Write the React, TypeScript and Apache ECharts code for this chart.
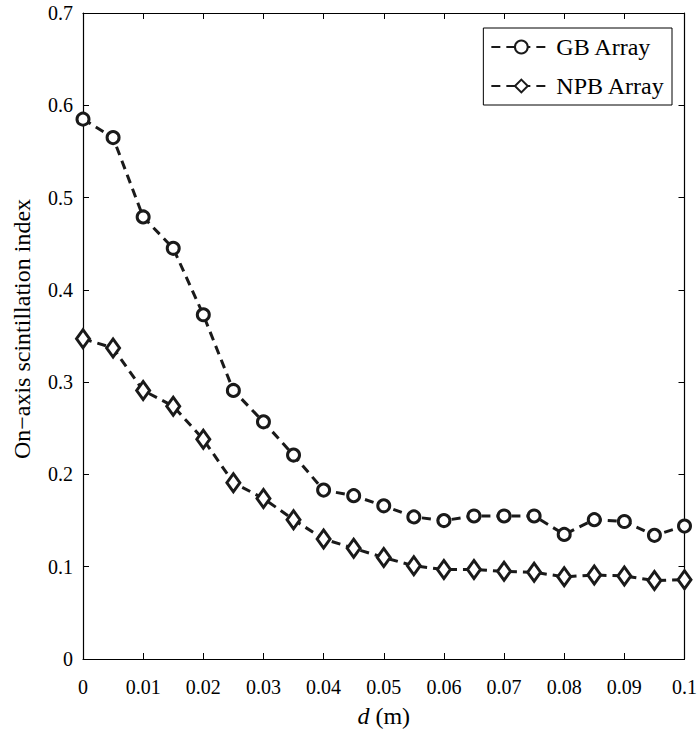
import React, { useEffect, useRef } from "react";
import * as echarts from "echarts";

const dValues = [0, 0.005, 0.01, 0.015, 0.02, 0.025, 0.03, 0.035, 0.04, 0.045, 0.05, 0.055, 0.06, 0.065, 0.07, 0.075, 0.08, 0.085, 0.09, 0.095, 0.1];
const gbArray = [0.585, 0.565, 0.479, 0.445, 0.373, 0.291, 0.257, 0.221, 0.183, 0.177, 0.166, 0.154, 0.150, 0.155, 0.155, 0.155, 0.135, 0.151, 0.149, 0.134, 0.144];
const npbArray = [0.347, 0.337, 0.291, 0.274, 0.238, 0.191, 0.174, 0.151, 0.130, 0.120, 0.110, 0.101, 0.097, 0.097, 0.095, 0.094, 0.089, 0.091, 0.090, 0.085, 0.086];
const seriesNames = ["GB Array", "NPB Array"];

const FONT = "Liberation Serif";

export default function App() {
  const ref = useRef<HTMLDivElement>(null);
  useEffect(() => {
    if (!ref.current) return;
    const chart = echarts.init(ref.current, null, { renderer: "svg" });
    const axisLine = { show: true, onZero: false, lineStyle: { color: "#000", width: 1.2 } };
    const tickStyle = { show: true, inside: true, length: 6, lineStyle: { color: "#000" } };
    const lbl = { fontFamily: FONT, fontSize: 20, color: "#000" };
    const mk = (vals: number[]) => dValues.map((d, i) => [d, vals[i]]);
    chart.setOption({
      animation: false,
      backgroundColor: "#fff",
      grid: { left: 83, right: 12, top: 13, bottom: 73 },
      legend: {
        orient: "vertical",
        right: 28,
        top: 28,
        padding: [7, 7, 7, 7],
        itemGap: 15,
        itemWidth: 60,
        itemHeight: 16,
        backgroundColor: "#fff",
        borderColor: "#000",
        borderWidth: 1,
        borderRadius: 0,
        textStyle: { fontFamily: FONT, fontSize: 24, color: "#000" },
        data: seriesNames,
      },
      xAxis: [
        {
          type: "value",
          min: 0,
          max: 0.1,
          interval: 0.01,
          axisLine,
          axisTick: tickStyle,
          splitLine: { show: false },
          axisLabel: { ...lbl, margin: 18, formatter: (v: number) => (v === 0 ? "0" : String(+v.toFixed(2))) },
          name: "{i|d} (m)",
          nameLocation: "middle",
          nameGap: 45,
          nameTextStyle: {
            fontFamily: FONT,
            fontSize: 24,
            color: "#000",
            rich: {
              i: { fontFamily: FONT, fontSize: 24, fontStyle: "italic", color: "#000" },
            },
          },
        },
        {
          type: "value",
          position: "top",
          min: 0,
          max: 0.1,
          interval: 0.01,
          axisLine,
          axisTick: tickStyle,
          axisLabel: { show: false },
          splitLine: { show: false },
        },
      ],
      yAxis: [
        {
          type: "value",
          min: 0,
          max: 0.7,
          interval: 0.1,
          axisLine,
          axisTick: tickStyle,
          splitLine: { show: false },
          axisLabel: { ...lbl, margin: 10, formatter: (v: number) => (v === 0 ? "0" : String(+v.toFixed(1))) },
          name: "On\u2212axis scintillation index",
          nameLocation: "middle",
          nameGap: 49,
          nameTextStyle: { fontFamily: FONT, fontSize: 24, color: "#000", padding: [0, 0, 0, 14] },
        },
        {
          type: "value",
          position: "right",
          min: 0,
          max: 0.7,
          interval: 0.1,
          axisLine,
          axisTick: tickStyle,
          axisLabel: { show: false },
          splitLine: { show: false },
        },
      ],
      series: [
        {
          name: seriesNames[0],
          type: "line",
          data: mk(gbArray),
          symbol: "circle",
          symbolSize: 12,
          showAllSymbol: true,
          lineStyle: { color: "#1a1a1a", width: 3, type: [9, 6] },
          itemStyle: { color: "#fff", borderColor: "#1a1a1a", borderWidth: 3 },
          clip: false,
        },
        {
          name: seriesNames[1],
          type: "line",
          data: mk(npbArray),
          symbol: "diamond",
          symbolSize: [13, 18],
          showAllSymbol: true,
          lineStyle: { color: "#1a1a1a", width: 3, type: [9, 6] },
          itemStyle: { color: "#fff", borderColor: "#1a1a1a", borderWidth: 3 },
          clip: false,
        },
      ],
    });
    return () => chart.dispose();
  }, []);
  return <div ref={ref} style={{ width: 700, height: 733, position: "absolute", left: 0, top: 0 }} />;
}
